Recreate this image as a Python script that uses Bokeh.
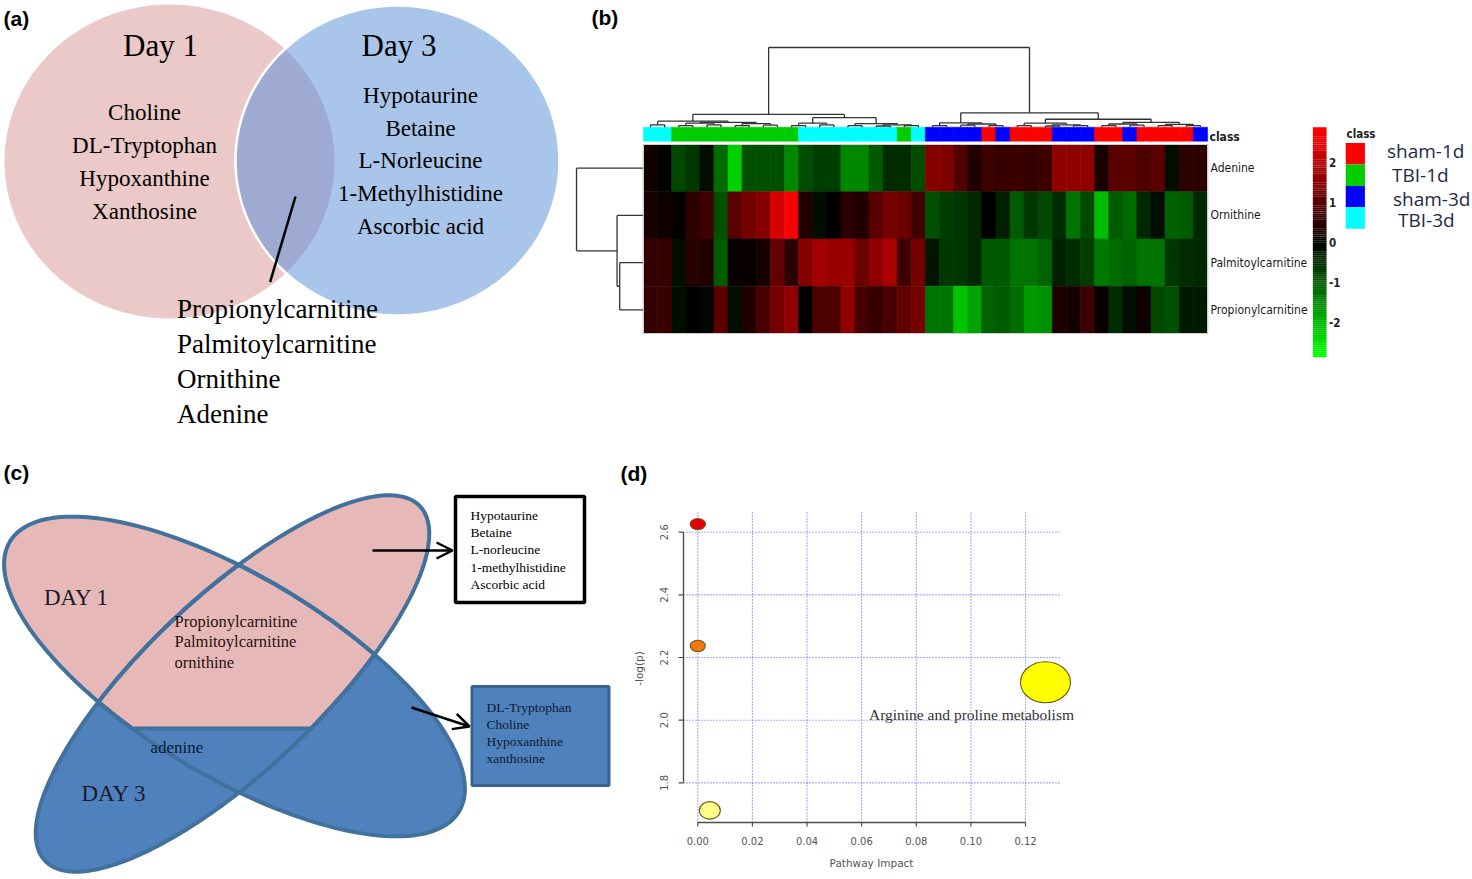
import numpy as np
from bokeh.plotting import figure
from bokeh.layouts import row, column
from bokeh.models import Range1d, ColumnDataSource, Arrow, OpenHead
from bokeh.transform import linear_cmap
from bokeh.core.properties import value
from bokeh.embed import file_html
from bokeh.resources import INLINE

# ======================= DATA =======================
# (a) Venn diagram
day1_only = ["Choline", "DL-Tryptophan", "Hypoxanthine", "Xanthosine"]
day3_only = ["Hypotaurine", "Betaine", "L-Norleucine", "1-Methylhistidine", "Ascorbic acid"]
shared = ["Propionylcarnitine", "Palmitoylcarnitine", "Ornithine", "Adenine"]

# (b) heatmap
metabolites = ["Adenine", "Ornithine", "Palmitoylcarnitine", "Propionylcarnitine"]
class_names = ["sham-1d", "TBI-1d", "sham-3d", "TBI-3d"]
class_colors = ["#ff0000", "#00cc00", "#0000ff", "#00ffff"]
sample_class = [3, 3, 1, 1, 1, 1, 1, 1, 1, 1, 1, 3, 3, 3, 3, 3, 3, 3, 1, 3,
                2, 2, 2, 2, 0, 2, 0, 0, 0, 2, 2, 2, 0, 0, 2, 0, 0, 0, 0, 2]
z_adenine = [0.2, 0.0, -0.8, -0.6, -0.15, -1.2, -2.3, -0.9, -0.9, -0.9,
             -1.5, -0.85, -0.7, -0.7, -1.5, -1.5, -1.0, -0.5, -0.5, -0.85,
             1.5, 1.4, 0.9, 0.35, 0.7, 0.6, 0.65, 0.6, 0.65, 1.6,
             1.6, 1.6, 0.3, 1.0, 1.0, 0.85, 1.0, -0.15, 0.5, 0.5]
z_ornithine = [0.25, 0.15, 0.05, 0.5, 0.7, -0.9, 1.0, 1.3, 1.5, 2.4,
               2.8, 0.35, -0.15, 0.0, 0.5, 0.35, 1.0, 1.3, 1.2, 0.7,
               -0.9, -0.7, -0.6, -0.45, 0.0, -0.35, -1.0, -0.6, -0.8, -0.5,
               -1.3, -0.8, -2.1, -1.0, -1.2, -0.45, -0.15, -1.1, -1.0, -0.45]
z_palmitoyl = [0.6, 0.6, -0.15, 0.45, 0.35, -1.0, 0.1, 0.1, 0.25, 1.1,
               0.5, 1.5, 1.8, 1.7, 1.7, 1.2, 1.6, 1.9, 0.7, 1.3,
               -0.25, -0.6, -0.6, -0.45, -1.0, -1.0, -1.3, -1.3, -1.1, -0.35,
               -0.5, -0.7, -1.35, -1.2, -1.1, -1.3, -1.3, -0.6, -0.5, -0.45]
z_propionyl = [0.6, 0.65, -0.15, 0.05, -0.1, 1.0, -0.15, 0.35, 0.8, 1.3,
               1.6, 0.0, 0.85, 0.85, 1.6, 0.8, 0.6, 0.8, 1.1, 1.3,
               -1.3, -1.3, -2.2, -1.8, -1.1, -1.0, -1.2, -1.7, -1.6, 0.35,
               0.2, 0.7, 0.1, -0.5, -0.15, 0.15, -0.8, -0.9, -0.3, -0.3]
# sample clustering tree: [left, right, height]
col_tree = [
    [[[0, 1, 0.03],
      [[[2, 3, 0.02], [4, 5, 0.03], 0.05], [[6, 7, 0.02], [8, 9, 0.025], 0.045], 0.06], 0.075],
     [[[10, 11, 0.02], [12, 13, 0.03], 0.05],
      [[14, 15, 0.02], [[16, 17, 0.015], [18, 19, 0.02], 0.03], 0.045], 0.12], 0.16],
    [[[20, 21, 0.02], [[22, 23, 0.025], [24, 25, 0.02], 0.04], 0.055],
     [[[26, 27, 0.02], [[28, 29, 0.015], [30, 31, 0.02], 0.03], 0.05],
      [[[32, 33, 0.02], [34, 35, 0.025], 0.04], [[36, 37, 0.02], [38, 39, 0.02], 0.035], 0.06], 0.10],
     0.18],
    1.0]
row_tree = [0, [1, [2, 3, 0.35], 0.39], 1.0]
colorbar_ticks = [2, 1, 0, -1, -2]

# (c) four-ellipse diagram
c_box_top = ["Hypotaurine", "Betaine", "L-norleucine", "1-methylhistidine", "Ascorbic  acid"]
c_box_bottom = ["DL-Tryptophan", "Choline", "Hypoxanthine", "xanthosine"]
c_center = ["Propionylcarnitine", "Palmitoylcarnitine", "ornithine"]
c_band = ["adenine"]

# (d) pathway analysis
pathway_impact = [0.0, 0.0, 0.1273, 0.0044]
neg_log_p = [2.626, 2.237, 2.121, 1.712]
pathway_label = ["", "", "Arginine and proline metabolism", ""]
bubble_fill = ["#e60000", "#f07a10", "#ffff00", "#ffff8c"]
impact_ticks = [0.0, 0.02, 0.04, 0.06, 0.08, 0.10, 0.12]
logp_ticks = [1.8, 2.0, 2.2, 2.4, 2.6]

# ======================= HELPERS =======================
SERIF = "Liberation Serif"
SANS = "Liberation Sans"
NARROW = "DejaVu Sans Condensed"


def blank(width, height, xr, yr):
    p = figure(width=width, height=height, x_range=Range1d(*xr), y_range=Range1d(*yr),
               output_backend="svg", toolbar_location=None,
               x_axis_location=None, y_axis_location=None, min_border=0)
    p.outline_line_color = None
    p.xgrid.visible = False
    p.ygrid.visible = False
    p.background_fill_color = "white"
    p.border_fill_color = "white"
    return p


def txt(p, x, y, texts, size, font=SERIF, color="#000000", align="center",
        style="normal", baseline="middle", angle=0.0):
    src = ColumnDataSource(dict(x=list(x), y=list(y), t=list(texts)))
    p.text(x="x", y="y", text="t", source=src, text_font=value(font),
           text_font_size=size, text_color=color, text_align=align,
           text_baseline=baseline, text_font_style=style, angle=angle)


def ellipse_pts(cx, cy, a, b, ang=0.0, n=360, t0=0.0):
    t = np.linspace(t0, t0 + 2 * np.pi, n, endpoint=False)
    ca, sa = np.cos(ang), np.sin(ang)
    x, y = a * np.cos(t), b * np.sin(t)
    return cx + x * ca - y * sa, cy + x * sa + y * ca


def clip_half(poly, a, b, c):
    out = []
    n = len(poly)
    for i in range(n):
        x1, y1 = poly[i]
        x2, y2 = poly[(i + 1) % n]
        d1 = a * x1 + b * y1 + c
        d2 = a * x2 + b * y2 + c
        if d1 <= 0:
            out.append((x1, y1))
        if (d1 <= 0) != (d2 <= 0):
            t = d1 / (d1 - d2)
            out.append((x1 + t * (x2 - x1), y1 + t * (y2 - y1)))
    return out


def clip_convex(poly, clip):
    cx = np.mean([q[0] for q in clip])
    cy = np.mean([q[1] for q in clip])
    n = len(clip)
    for i in range(n):
        x1, y1 = clip[i]
        x2, y2 = clip[(i + 1) % n]
        a, b = y2 - y1, -(x2 - x1)
        c = -(a * x1 + b * y1)
        if a * cx + b * cy + c > 0:
            a, b, c = -a, -b, -c
        poly = clip_half(poly, a, b, c)
    return poly


def xy(poly):
    return [q[0] for q in poly], [q[1] for q in poly]


# ======================= PANEL (a) =======================
pa = blank(570, 455, (0, 570), (455, 0))
PC_, PR_ = (169.0, 161.0), (165.0, 157.0)
BC_, BR_ = (397.0, 160.0), (162.0, 155.0)
px_, py_ = ellipse_pts(PC_[0], PC_[1], PR_[0], PR_[1], t0=-np.pi, n=900)
qx_, qy_ = ellipse_pts(BC_[0], BC_[1], BR_[0], BR_[1], t0=0.0, n=900)
pa.patch(px_, py_, fill_color="#ecc9c9", line_color=None)
pa.patch(qx_, qy_, fill_color="#a9c5ea", line_color=None)
m1 = ((px_ - BC_[0]) / BR_[0]) ** 2 + ((py_ - BC_[1]) / BR_[1]) ** 2 <= 1
m2 = ((qx_ - PC_[0]) / PR_[0]) ** 2 + ((qy_ - PC_[1]) / PR_[1]) ** 2 <= 1
pa.patch(np.concatenate([px_[m1], qx_[m2]]), np.concatenate([py_[m1], qy_[m2]]),
         fill_color="#9eaad2", line_color=None)
pa.patch(qx_, qy_, fill_color=None, line_color="white", line_width=2.5)

txt(pa, [160, 398.5], [45, 45], ["Day 1", "Day 3"], "31px")
txt(pa, [144] * len(day1_only), [111.5 + 33.0 * i for i in range(len(day1_only))], day1_only, "23px")
txt(pa, [420] * len(day3_only), [95 + 32.7 * i for i in range(len(day3_only))], day3_only, "23px")
pa.line([295, 269.6], [196, 281.7], line_color="black", line_width=2.5)
txt(pa, [176.5] * len(shared), [308 + 35.0 * i for i in range(len(shared))], shared, "27px", align="left")
txt(pa, [3], [18], ["(a)"], "21px", font=SANS, style="bold", align="left")

# ======================= PANEL (b) =======================
HM_LEFT, CELL_W, HM_BOTTOM, ROW_H = 643.0, 14.1, 333.0, 47.25


def bx(px):
    return (px - HM_LEFT) / CELL_W


def by(py):
    return (HM_BOTTOM - py) / ROW_H


pb = blank(902, 455, (bx(570), bx(1472)), (by(455), by(0)))

n_cols = len(sample_class)
z_rows = [z_adenine, z_ornithine, z_palmitoyl, z_propionyl]
ZMAX = 2.85
tt = np.linspace(-1, 1, 255)
palette = [("#00%02x00" % int(round(-t * 255))) if t < 0 else ("#%02x0000" % int(round(t * 255))) for t in tt]

hx, hy, hz = [], [], []
for i, zr in enumerate(z_rows):
    for j, v in enumerate(zr):
        hx.append(j + 0.5)
        hy.append(len(z_rows) - 0.5 - i)
        hz.append(v)
cm = linear_cmap("z", palette, -ZMAX, ZMAX)
pb.rect(x="x", y="y", width=1.02, height=1.0, source=ColumnDataSource(dict(x=hx, y=hy, z=hz)),
        fill_color=cm, line_color=cm, line_width=0.5)
pb.rect(x=[n_cols / 2], y=[len(z_rows) / 2], width=[n_cols], height=[len(z_rows)],
        fill_color=None, line_color="#cfcfcf", line_width=1)

# class bar
cb_y = by(133.7)
pb.rect(x=[j + 0.5 for j in range(n_cols)], y=[cb_y] * n_cols, width=1.02, height=14.0 / ROW_H,
        fill_color=[class_colors[c] for c in sample_class],
        line_color=[class_colors[c] for c in sample_class], line_width=0.5)
txt(pb, [bx(1209)], [by(136.5)], ["class"], "12px", font=NARROW, style="bold",
    align="left", color="#222222")


# dendrograms
def dendro(node, leaf_pos):
    if isinstance(node, int):
        return leaf_pos(node), 0.0, []
    l, r, h = node
    xl, hl, sl = dendro(l, leaf_pos)
    xr, hr, sr = dendro(r, leaf_pos)
    segs = sl + sr + [(xl, hl, xl, h), (xr, hr, xr, h), (xl, h, xr, h)]
    return (xl + xr) / 2.0, h, segs


_, _, csegs = dendro(col_tree, lambda k: k + 0.5)
DY0, DY1 = by(126.7), by(47)
pb.segment(x0=[s[0] for s in csegs], y0=[DY0 + s[1] * (DY1 - DY0) for s in csegs],
           x1=[s[2] for s in csegs], y1=[DY0 + s[3] * (DY1 - DY0) for s in csegs],
           line_color="#333333", line_width=1.3)

_, _, rsegs = dendro(row_tree, lambda k: len(z_rows) - 0.5 - k)
DX0, DX1 = bx(642.5), bx(576)
pb.segment(x0=[DX0 + s[1] * (DX1 - DX0) for s in rsegs], y0=[s[0] for s in rsegs],
           x1=[DX0 + s[3] * (DX1 - DX0) for s in rsegs], y1=[s[2] for s in rsegs],
           line_color="#333333", line_width=1.3)

# row labels
txt(pb, [bx(1210)] * len(metabolites), [len(z_rows) - 0.5 - i for i in range(len(metabolites))],
    metabolites, "12px", font=NARROW, align="left", color="#1a1a1a")

# color key
CB_ZERO, CB_PX = 241.7, 40.0
cbv = np.linspace(-ZMAX, ZMAX, 120)
step = cbv[1] - cbv[0]
cm2 = linear_cmap("v", palette, -ZMAX, ZMAX)
pb.rect(x="x", y="y", width=13.7 / CELL_W, height=CB_PX * step / ROW_H * 1.05,
        source=ColumnDataSource(dict(x=[bx(1319.2)] * len(cbv), y=[by(CB_ZERO - CB_PX * v) for v in cbv], v=cbv)),
        fill_color=cm2, line_color=None)
txt(pb, [bx(1328.5)] * len(colorbar_ticks), [by(CB_ZERO - CB_PX * t) for t in colorbar_ticks],
    [str(t) for t in colorbar_ticks], "11.5px", font=NARROW, style="bold", align="left", color="#222222")

# class legend
LEG_TOP, LEG_H = 142.5, 21.45
pb.rect(x=[bx(1354.8)] * 4, y=[by(LEG_TOP + LEG_H * (i + 0.5)) for i in range(4)],
        width=19.2 / CELL_W, height=LEG_H / ROW_H, fill_color=class_colors, line_color=None)
txt(pb, [bx(1346)], [by(133.3)], ["class"], "11.5px", font=NARROW, style="bold",
    align="left", color="#222222")
leg_x = [1386.5, 1391.5, 1392.5, 1397.5]
leg_y = [150.7, 174.0, 198.0, 219.5]
txt(pb, [bx(v) for v in leg_x], [by(v) for v in leg_y], class_names, "19px",
    font="Open Sans", align="left", color="#1f2a44")
txt(pb, [bx(591)], [by(17)], ["(b)"], "21px", font=SANS, style="bold", align="left")

# ======================= PANEL (c) =======================
pc = blank(612, 424, (0, 612), (879, 455))
PINK, BLUE, EDGE = "#e6b9b8", "#4f81bd", "#41719c"
A1 = np.radians(31.0)
A2 = np.radians(136.6)
E1 = (234.0, 676.0, 262.0, 100.0, A1)
E2 = (232.0, 683.0, 258.0, 87.0, A2)
e1x, e1y = ellipse_pts(*E1, n=240)
e2x, e2y = ellipse_pts(*E2, n=240)
poly1 = list(zip(e1x, e1y))
poly2 = list(zip(e2x, e2y))
SPLIT = 728.0
pc.patch(e1x, e1y, fill_color=BLUE, line_color=None)
pc.patch(e2x, e2y, fill_color=BLUE, line_color=None)
p1 = clip_half(poly1, np.cos(A1), np.sin(A1), -(np.cos(A1) * E1[0] + np.sin(A1) * E1[1]))
p1 = clip_half(p1, 0.0, 1.0, -SPLIT)
p2b = clip_half(poly2, np.cos(A2), np.sin(A2), -(np.cos(A2) * E2[0] + np.sin(A2) * E2[1]))
p2b = clip_half(p2b, 0.0, 1.0, -SPLIT)
p2a = clip_convex(poly2, poly1)
p2a = clip_half(p2a, 0.0, 1.0, -SPLIT)
x_, y_ = xy(p1)
pc.patch(x_, y_, fill_color=PINK, line_color=None)
x_, y_ = xy(p2b)
pc.patch(x_, y_, fill_color=PINK, line_color=None)
x_, y_ = xy(p2a)
pc.patch(x_, y_, fill_color=PINK, line_color=EDGE, line_width=4)
pc.patch(e1x, e1y, fill_color=None, line_color=EDGE, line_width=4)
pc.patch(e2x, e2y, fill_color=None, line_color=EDGE, line_width=4)

pc.quad(left=[455], right=[584], top=[496], bottom=[602], fill_color="white",
        line_color="black", line_width=3.5)
pc.quad(left=[471.5], right=[608.5], top=[686], bottom=[785], fill_color=BLUE,
        line_color="#3b6391", line_width=3)
pc.add_layout(Arrow(end=OpenHead(size=16, line_width=2.5, line_color="black"),
                    x_start=372, y_start=550, x_end=452, y_end=550,
                    line_width=2.5, line_color="black"))
pc.add_layout(Arrow(end=OpenHead(size=16, line_width=2.5, line_color="black"),
                    x_start=411, y_start=707, x_end=469, y_end=726,
                    line_width=2.5, line_color="black"))

txt(pc, [470] * len(c_box_top), [515 + 17.2 * i for i in range(len(c_box_top))], c_box_top,
    "13.5px", align="left")
txt(pc, [486] * len(c_box_bottom), [706.5 + 17.0 * i for i in range(len(c_box_bottom))], c_box_bottom,
    "13.5px", align="left", color="#0d1a33")
txt(pc, [43.5, 81], [597, 793], ["DAY 1", "DAY 3"], "23px", align="left", color="#1a1a2a")
txt(pc, [174] * len(c_center), [620.5 + 20.5 * i for i in range(len(c_center))], c_center,
    "16.5px", align="left", color="#2a1010")
txt(pc, [150], [746.5], c_band, "17px", align="left", color="#0d1a33")
txt(pc, [3], [472], ["(c)"], "21px", font=SANS, style="bold", align="left")

# ======================= PANEL (d) =======================
X_PX0, X_PXU = 697.3, 2731.0   # pixel of impact 0, pixels per impact unit
Y_PX0, Y_PXU = 531.7, 313.3    # pixel of -log(p)=2.6, pixels per unit


def dx(px):
    return (px - X_PX0) / X_PXU


def dy(py):
    return 2.6 - (py - Y_PX0) / Y_PXU


pdd = blank(860, 424, (dx(612), dx(1472)), (dy(879), dy(455)))
FR_L, FR_R, FR_T, FR_B = dx(683), dx(1060), dy(512), dy(822)
AX_COL = "#4d4d4d"
GRID_COL = "#4a4aff"
# grid
pdd.segment(x0=impact_ticks, x1=impact_ticks, y0=[FR_B] * len(impact_ticks), y1=[FR_T] * len(impact_ticks),
            line_color=GRID_COL, line_dash="1 2", line_width=1.1, line_alpha=0.9)
pdd.segment(x0=[FR_L] * len(logp_ticks), x1=[FR_R] * len(logp_ticks), y0=logp_ticks, y1=logp_ticks,
            line_color=GRID_COL, line_dash="1 2", line_width=1.1, line_alpha=0.9)
# axes (R style, spanning tick range only)
pdd.segment(x0=[impact_ticks[0]], x1=[impact_ticks[-1]], y0=[FR_B], y1=[FR_B], line_color=AX_COL, line_width=1.4)
pdd.segment(x0=impact_ticks, x1=impact_ticks, y0=[FR_B] * len(impact_ticks),
            y1=[FR_B - 4.0 / Y_PXU] * len(impact_ticks), line_color=AX_COL, line_width=1.2)
pdd.segment(x0=[FR_L], x1=[FR_L], y0=[logp_ticks[0]], y1=[logp_ticks[-1]], line_color=AX_COL, line_width=1.4)
pdd.segment(x0=[FR_L] * len(logp_ticks), x1=[FR_L - 5.0 / X_PXU] * len(logp_ticks), y0=logp_ticks,
            y1=logp_ticks, line_color=AX_COL, line_width=1.2)
txt(pdd, impact_ticks, [dy(840)] * len(impact_ticks), ["%.2f" % t for t in impact_ticks], "10px",
    font="DejaVu Sans", color="#555555")
txt(pdd, [dx(663)] * len(logp_ticks), logp_ticks, ["%.1f" % t for t in logp_ticks], "10px",
    font="DejaVu Sans", color="#555555", angle=np.pi / 2)
txt(pdd, [dx(871)], [dy(862)], ["Pathway Impact"], "10.5px", font="DejaVu Sans", color="#555555")
txt(pdd, [dx(638)], [dy(668)], ["-log(p)"], "10.5px", font="DejaVu Sans", color="#555555", angle=np.pi / 2)

dsrc = ColumnDataSource(dict(x=pathway_impact, y=neg_log_p, label=pathway_label, fill=bubble_fill,
                             w=[15.5, 15.0, 50.0, 21.0], h=[11.0, 11.5, 41.0, 17.5]))
pdd.ellipse(x="x", y="y", width="w", height="h", width_units="screen", height_units="screen",
            fill_color="fill", line_color="#6a5510", line_width=1.1, source=dsrc)
pdd.text(x="x", y="y", text="label", x_offset=-74, y_offset=32, source=dsrc,
         text_font=value(SERIF), text_font_size="15.5px", text_color="#333333",
         text_align="center", text_baseline="middle")
txt(pdd, [dx(620)], [dy(473)], ["(d)"], "21px", font=SANS, style="bold", align="left")

layout = column(row(pa, pb), row(pc, pdd))
open("out.html", "w").write(file_html(layout, INLINE))
